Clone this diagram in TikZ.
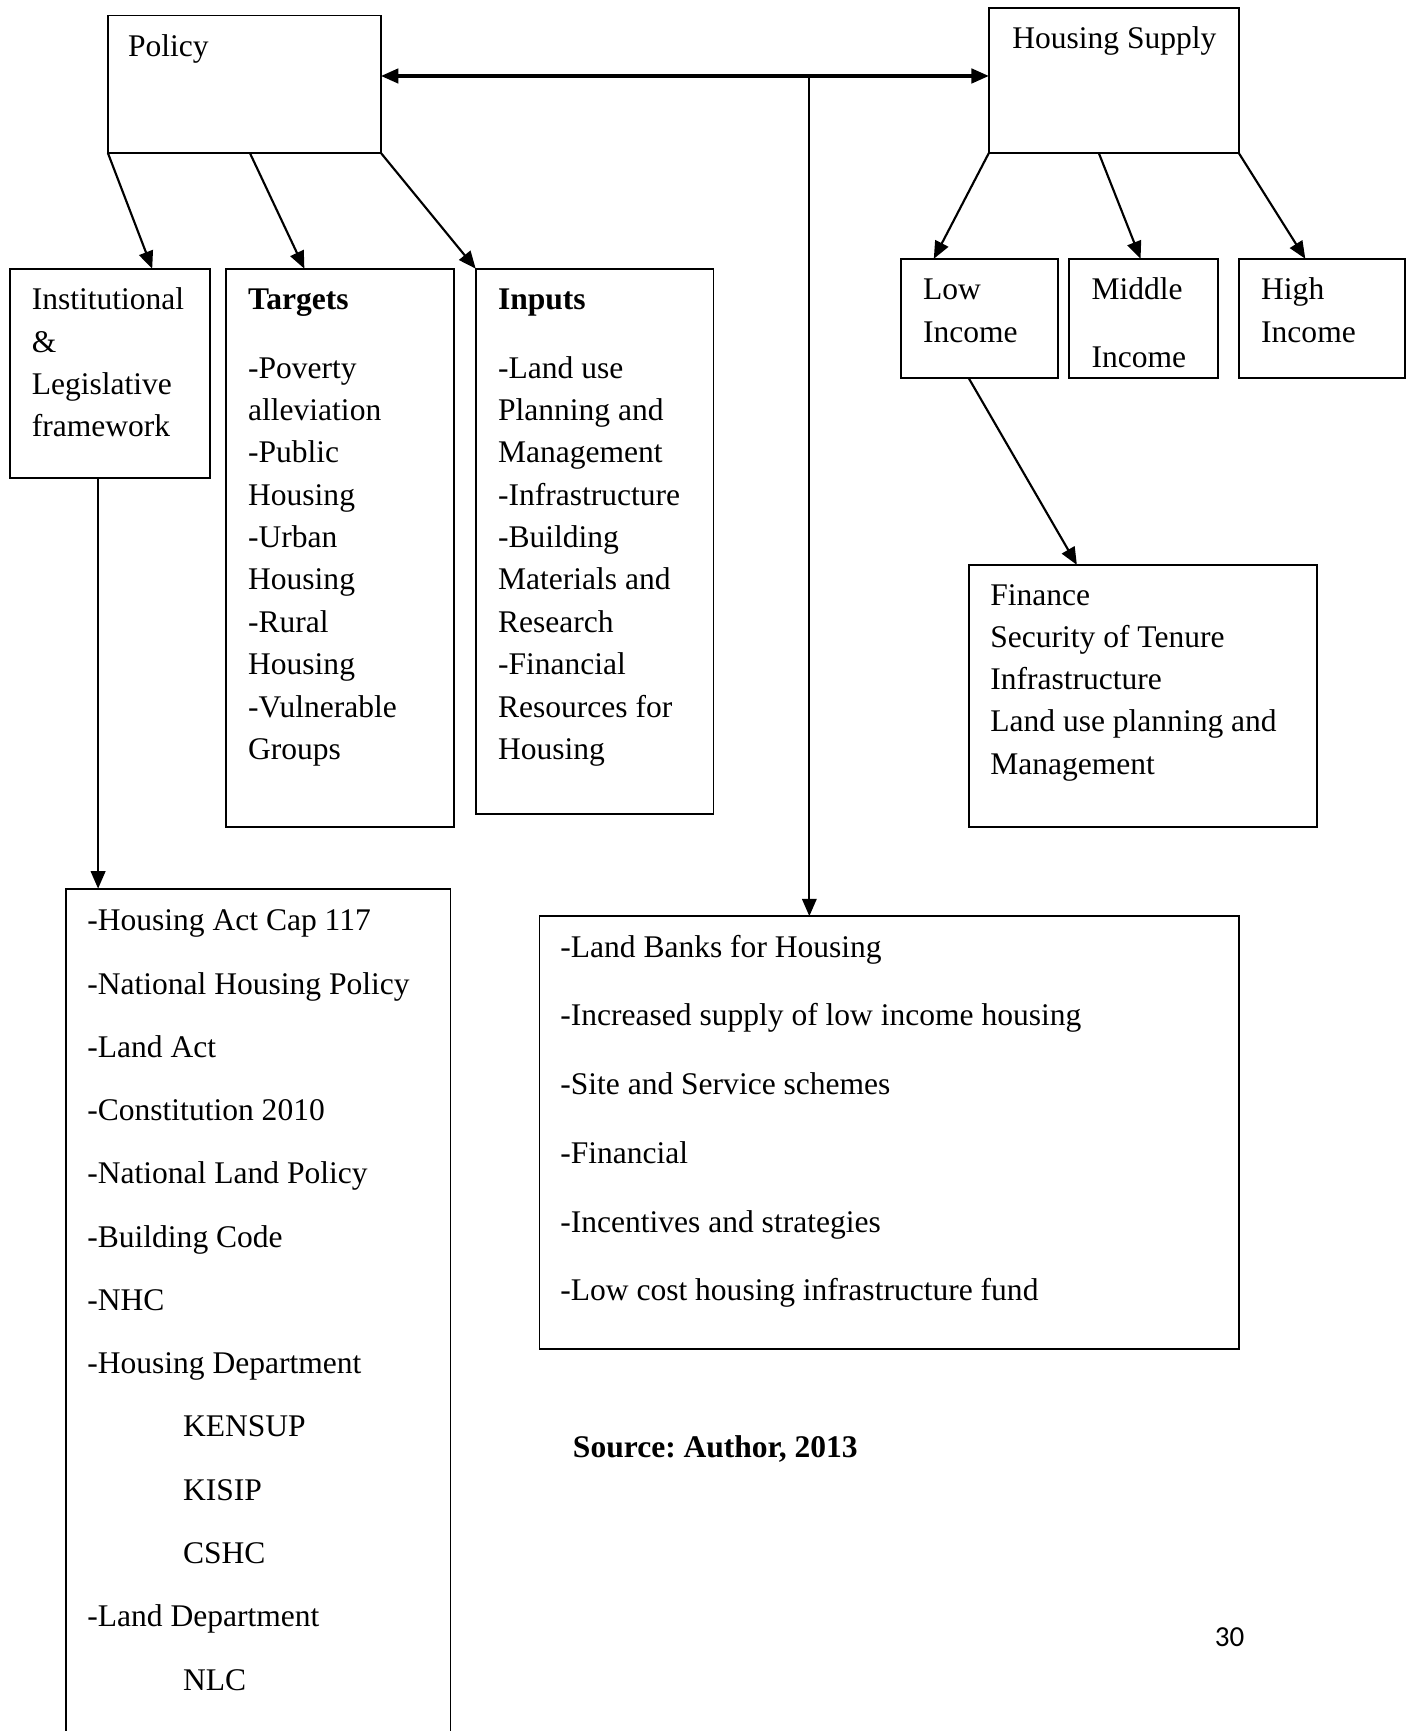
\documentclass[tikz,border=0pt]{standalone}
\usepackage{fontspec}
\setmainfont{Liberation Serif}
\newfontfamily\pagenumfont{Carlito}
\usepackage{tikz}
\usetikzlibrary{arrows.meta}
\usetikzlibrary{positioning, calc}
\frenchspacing
\newcommand{\boxfont}{\fontsize{16.3}{21.9}\selectfont}
\newcommand{\firstline}{\rule{0pt}{12pt}}
\tikzset{>={Triangle[length=9pt, width=7.5pt]}}
\tikzset{frame-box/.style={draw, line width=0.9pt, inner sep=0, outer sep=0, anchor=north west}}
\tikzset{box-text/.style={anchor=north west, inner sep=0, align=left, font=\boxfont}}
\tikzset{link-line/.style={->, line width=1.1pt}}
\newcommand{\plainbox}[5] {
    \node[frame-box, minimum width={(#4-#2)*0.02cm}, minimum height={(#5-#3)*0.02cm}] (#1) at (#2,#3) {};
}
\begin{document}
\begin{tikzpicture}[x=0.02cm, y=-0.02cm]
            \useasboundingbox (0,0) rectangle (1280,1572);
            \clip (0,0) rectangle (1280,1572);
            % boxes
            \plainbox{policy}{98}{14}{346}{139}
            \plainbox{supply}{898}{7}{1125}{139}
            \plainbox{inst}{9}{244}{191}{434}
            \plainbox{targets}{205}{244}{412}{751}
            \plainbox{inputs}{432}{244}{648}{739}
            \plainbox{low}{818}{235}{961}{343}
            \plainbox{middle}{971}{235}{1106}{343}
            \plainbox{high}{1125}{235}{1276}{343}
            \plainbox{finance}{880}{513}{1196}{751}
            \plainbox{acts}{60}{807}{409}{1620}
            \plainbox{banks}{490}{832}{1125}{1225}

            % texts
            \node[box-text] (policy-text) at (116,29.9) {\firstline Policy};
            \node[box-text] (supply-text) at (919,22.4) {\firstline Housing Supply};
            \node[box-text] (inst-text) at (28.5,259.9) {\firstline Institutional\\ \&\\ Legislative\\ framework};
            \node[box-text] (targets-text) at (225,259.9) {\firstline\textbf{Targets}\\[13.4pt] -Poverty\\ alleviation\\ -Public\\ Housing\\ -Urban\\ Housing\\ -Rural\\ Housing\\ -Vulnerable\\ Groups};
            \node[box-text] (inputs-text) at (452,259.9) {\firstline\textbf{Inputs}\\[13.4pt] -Land use\\ Planning and\\ Management\\ -Infrastructure\\ -Building\\ Materials and\\ Research\\ -Financial\\ Resources for\\ Housing};
            \node[box-text] (low-text) at (838,250.9) {\firstline Low\\ Income};
            \node[box-text] (middle-text) at (991,250.9) {\firstline Middle\\[12.8pt] Income};
            \node[box-text] (high-text) at (1145,250.9) {\firstline High\\ Income};
            \node[box-text, font=\fontsize{16.3}{21.8}\selectfont] (finance-text) at (899,528.4) {\firstline Finance\\ Security of Tenure\\ Infrastructure\\ Land use planning and\\ Management};
            \node[box-text, font=\fontsize{16.3}{32.7}\selectfont] (acts-text) at (79,823.9) {\firstline -Housing Act Cap 117\\ -National Housing Policy\\ -Land Act\\ -Constitution 2010\\ -National Land Policy\\ -Building Code\\ -NHC\\ -Housing Department\\ \hspace*{49.5pt}KENSUP\\ \hspace*{49.5pt}KISIP\\ \hspace*{49.5pt}CSHC\\ -Land Department\\ \hspace*{49.5pt}NLC};
            \node[box-text, font=\fontsize{16.3}{35.5}\selectfont] (banks-text) at (508.5,847.9) {\firstline -Land Banks for Housing\\ -Increased supply of low income housing\\ -Site and Service schemes\\ -Financial\\ -Incentives and strategies\\ -Low cost housing infrastructure fund};
            \node[box-text, font=\boxfont\bfseries] (source) at (520,1302.4) {\firstline Source: Author, 2013};
            \node[anchor=base west, inner sep=0, font=\pagenumfont\fontsize{15}{18}\selectfont] (page) at (1103,1495) {30};

            % connectors
            \coordinate (hub) at (735,69);
            \draw[link-line, <->, line width=1.6pt] (hub -| policy.east) -- (hub -| supply.west);
            \draw[link-line] (hub) -- (hub |- banks.north);
            \draw[link-line] (policy.south west) -- ($(inst.north west)!0.71!(inst.north east)$);
            \draw[link-line] ($(policy.south west)!0.52!(policy.south east)$) -- ($(targets.north west)!0.345!(targets.north east)$);
            \draw[link-line] (policy.south east) -- (inputs.north west);
            \draw[link-line] (supply.south west) -- ($(low.north west)!0.21!(low.north east)$);
            \draw[link-line] ($(supply.south west)!0.44!(supply.south east)$) -- ($(middle.north west)!0.48!(middle.north east)$);
            \draw[link-line] (supply.south east) -- ($(high.north west)!0.40!(high.north east)$);
            \draw[link-line] ($(low.south west)!0.43!(low.south east)$) -- ($(finance.north west)!0.31!(finance.north east)$);
            \coordinate (inst-foot) at ($(inst.south west)!0.44!(inst.south east)$);
            \draw[link-line] (inst-foot) -- (inst-foot |- acts.north);
        \end{tikzpicture}
\end{document}
